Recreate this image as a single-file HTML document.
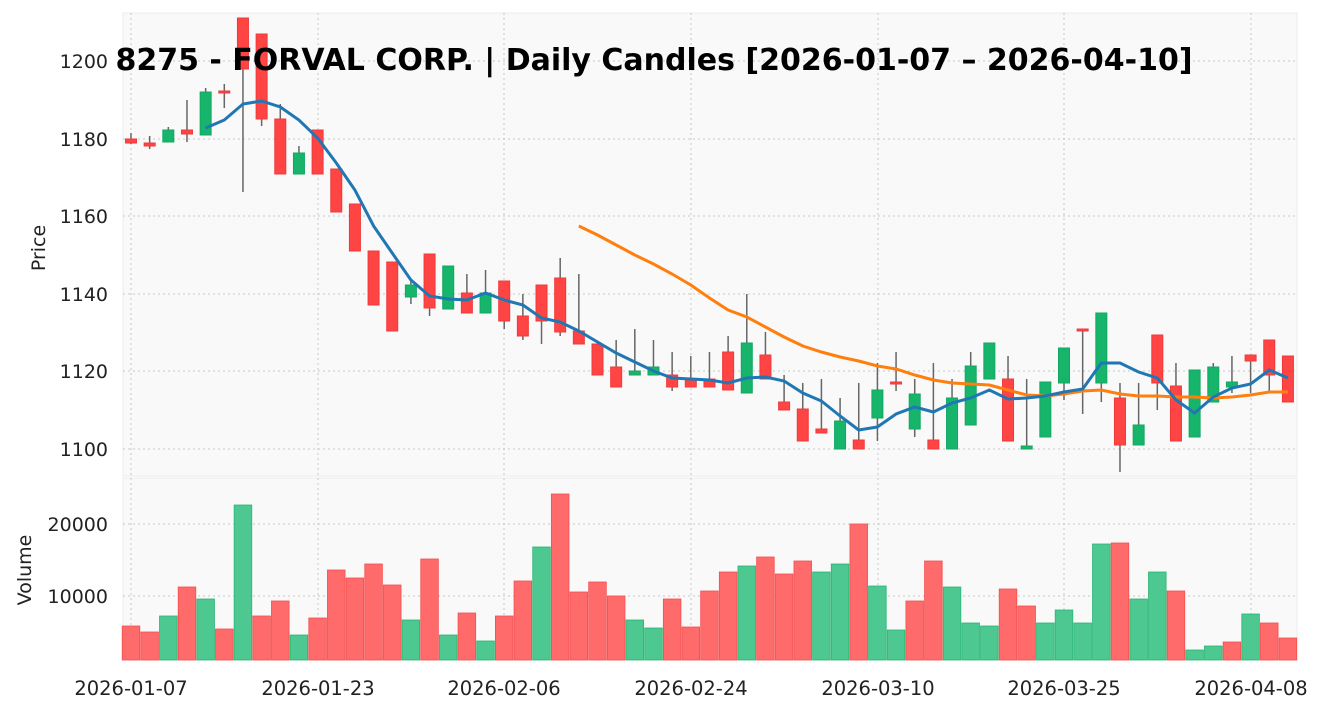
<!DOCTYPE html>
<html><head><meta charset="utf-8"><style>
html,body{margin:0;padding:0;background:#fff;}
svg text{font-family:"DejaVu Sans","Liberation Sans",sans-serif;fill:#222;}
</style></head><body>
<svg id="s" width="1325" height="711" xmlns="http://www.w3.org/2000/svg">
<rect x="123" y="13" width="1174" height="463" fill="#f9f9f9" stroke="#ececec"/>
<rect x="123" y="478" width="1174" height="182" fill="#f9f9f9" stroke="#ececec"/>
<g id="grid" stroke="#c8c8c8" stroke-dasharray="2,3" stroke-width="1"></g>
<g id="vol"></g>
<g id="cand"></g>
<polyline id="ma1" fill="none" stroke="#ff7f0e" stroke-width="3"/>
<polyline id="ma2" fill="none" stroke="#1f77b4" stroke-width="3"/>
<g font-size="19" text-anchor="end">
<text x="108" y="456">1100</text><text x="108" y="378">1120</text><text x="108" y="301">1140</text>
<text x="108" y="223">1160</text><text x="108" y="146">1180</text><text x="108" y="68">1200</text>
<text x="108" y="531">20000</text><text x="108" y="603">10000</text>
</g>
<g font-size="19.5" text-anchor="middle">
<text x="131" y="695">2026-01-07</text><text x="318" y="695">2026-01-23</text><text x="504" y="695">2026-02-06</text>
<text x="691" y="695">2026-02-24</text><text x="878" y="695">2026-03-10</text><text x="1064" y="695">2026-03-25</text>
<text x="1251" y="695">2026-04-08</text>
</g>
<text font-size="19" text-anchor="middle" transform="translate(45,248) rotate(-90)">Price</text>
<text font-size="19" text-anchor="middle" transform="translate(31,570) rotate(-90)">Volume</text>
<text x="654" y="70" font-size="30" font-weight="bold" text-anchor="middle" style="fill:#000">8275 - FORVAL CORP. | Daily Candles [2026-01-07 – 2026-04-10]</text>
</svg>
<script>
var NS="http://www.w3.org/2000/svg";
function el(p,t,a){var e=document.createElementNS(NS,t);for(var k in a)e.setAttribute(k,a[k]);p.appendChild(e);return e;}
var g=document.getElementById('grid');
[131,318,504,691,878,1064,1251].forEach(function(x){el(g,'line',{x1:x,x2:x,y1:13,y2:476});el(g,'line',{x1:x,x2:x,y1:478,y2:660});});
[449,371,294,216,139,61].forEach(function(y){el(g,'line',{x1:123,x2:1297,y1:y,y2:y});});
[524,596].forEach(function(y){el(g,'line',{x1:123,x2:1297,y1:y,y2:y});});
var C=[['r',139,143,133,144],['r',143,146,136,149],['g',130,142,127,142],['r',130,134,100,142],['g',92,135,88,135],['r',91,93,84,108],['r',18,69,18,192],['r',34,119,34,126],['r',119,174,104,174],['g',153,174,146,174],['r',130,174,130,174],['r',169,212,169,212],['r',204,251,204,251],['r',251,305,251,305],['r',262,331,262,331],['g',285,297,280,304],['r',254,308,254,316],['g',266,309,266,309],['r',293,313,274,313],['g',293,313,270,313],['r',281,321,281,329],['r',316,336,294,340],['r',285,321,285,344],['r',278,332,258,336],['r',331,344,274,344],['r',344,375,344,375],['r',367,387,340,387],['g',371,375,329,375],['g',367,375,340,375],['r',375,387,352,391],['r',379,387,356,387],['r',379,387,352,387],['r',352,390,336,390],['g',343,393,294,393],['r',355,379,332,379],['r',402,410,375,410],['r',409,441,383,441],['r',429,433,379,433],['g',421,449,398,449],['r',440,449,383,449],['g',390,418,363,441],['r',382,384,352,391],['g',394,429,379,437],['r',440,449,363,449],['g',398,449,379,449],['g',366,425,352,425],['g',343,379,343,379],['r',379,441,356,441],['g',446,449,379,449],['g',382,437,382,437],['g',348,383,348,400],['r',329,330,329,414],['g',313,383,313,402],['r',398,445,383,472],['g',425,445,383,445],['r',335,383,335,410],['r',386,441,363,441],['g',370,437,370,437],['g',367,402,363,402],['g',382,387,356,393],['r',355,361,355,393],['r',340,375,340,391],['r',356,402,356,402]];
var V=[626,632,616,587,599,629,505,616,601,635,618,570,578,564,585,620,559,635,613,641,616,581,547,494,592,582,596,620,628,599,627,591,572,566,557,574,561,572,564,524,586,630,601,561,587,623,626,589,606,623,610,623,544,543,599,572,591,650,646,642,614,623,638];
var VC="RRGRGRGRRGRRRRRGRGRGRRGRRRRGGRRRRGRRRGGRGGRRGGGRRGGGGRGGRGGRGRR";
var cg=document.getElementById('cand'),vg=document.getElementById('vol');
C.forEach(function(c,i){var x=131+18.66*i;
el(cg,'line',{x1:x,x2:x,y1:c[3],y2:c[4],stroke:'#666','stroke-width':1.5});
var h=Math.max(c[2]-c[1],2);
el(cg,'rect',{x:x-5.5,y:c[1],width:11,height:h,fill:c[0]=='g'?'#16b56b':'#ff4444',stroke:c[0]=='g'?'#12a862':'#f03a3a','stroke-width':1});
var gr=VC[i]=='G';
el(vg,'rect',{x:x-8.8,y:V[i],width:17.6,height:660-V[i],fill:gr?'#4cc890':'#ff6b6b',stroke:gr?'#2bb574':'#f24f4f','stroke-width':0.8});
});
var b={4:128,5:120,6:104,7:101,8:107,9:120,10:138,11:163,12:190,13:226,14:253,15:280,16:296,17:299,18:300,19:293,20:300,21:305,22:318,23:322,24:331,25:342,26:353,27:362,28:371,29:378,30:379,31:380,32:383,33:378,34:377,35:381,36:393,37:401,38:416,39:430,40:427,41:414,42:407,43:412,44:403,45:398,46:390,47:399,48:398,49:396,50:392,51:389,52:363,53:363,54:372,55:378,56:400,57:413,58:397,59:388,60:384,61:370,62:378};
var p=[];for(var i=4;i<63;i++)p.push((131+18.66*i).toFixed(1)+','+b[i]);
document.getElementById('ma2').setAttribute('points',p.join(' '));
var o=[226,235,245,255,264,274,285,298,310,317,327,337,346,352,357,361,366,369,375,380,383,384,385,390,395,396,394,391,390,394,396,396,397,397,398,397,395,392,392];
p=[];o.forEach(function(y,k){p.push((131+18.66*(k+24)).toFixed(1)+','+y);});
document.getElementById('ma1').setAttribute('points',p.join(' '));
</script>
</body></html>
